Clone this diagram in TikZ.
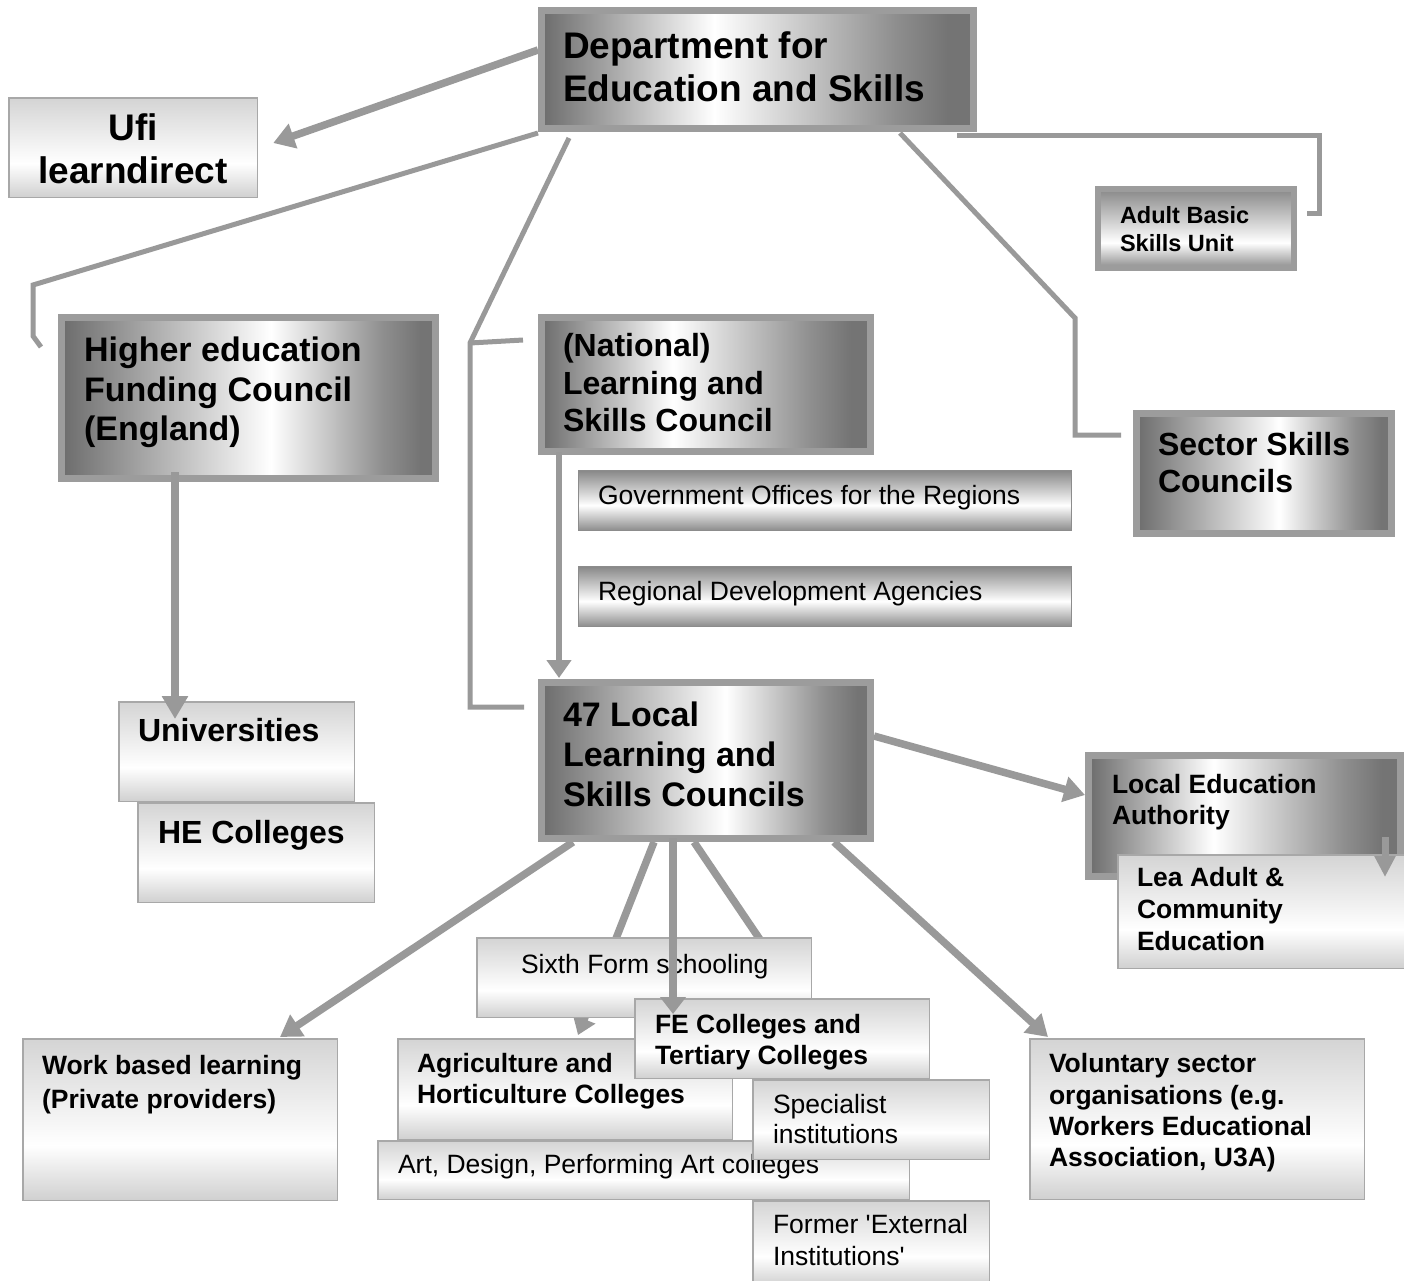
\documentclass[tikz,border=0pt]{standalone}
\usepackage{fontspec}
\setmainfont{Liberation Sans}
\usetikzlibrary{arrows.meta,calc,backgrounds}
\definecolor{lnc}{HTML}{999999}
\definecolor{bord}{HTML}{9C9C9C}
\definecolor{dkL}{HTML}{6C6C6C}
\definecolor{dkM}{HTML}{8E8E8E}
\definecolor{dkR}{HTML}{747474}
\definecolor{ltT}{HTML}{D4D4D4}
\definecolor{ltB}{HTML}{D0D0D0}
\definecolor{lbord}{HTML}{A8A8A8}
\definecolor{mtT}{HTML}{888888}
\definecolor{mtB}{HTML}{8C8C8C}
\pgfdeclarehorizontalshading{dmA}{100bp}{color(0bp)=(dkL); color(25bp)=(dkL); color(45bp)=(white); color(66bp)=(dkM); color(72bp)=(dkR); color(75bp)=(dkR); color(100bp)=(dkR)}
\pgfdeclarehorizontalshading{dmB}{100bp}{color(0bp)=(dkL); color(25bp)=(dkL); color(53bp)=(white); color(68bp)=(dkM); color(73bp)=(dkR); color(75bp)=(dkR); color(100bp)=(dkR)}
\pgfdeclareverticalshading{mtv}{100bp}{color(0bp)=(mtB); color(25bp)=(mtB); color(46bp)=(white); color(75bp)=(mtT); color(100bp)=(mtT)}
\pgfdeclareverticalshading{mta}{100bp}{color(0bp)=(mtB); color(25bp)=(mtB); color(41bp)=(white); color(75bp)=(mtT); color(100bp)=(mtT)}
\pgfdeclareverticalshading{ltv}{100bp}{color(0bp)=(ltB); color(25bp)=(ltB); color(42bp)=(white); color(75bp)=(ltT); color(100bp)=(ltT)}
\newcommand\bx[7]{\node[#1, minimum width={#5-#3-#7}, minimum height={#6-#4-#7}] (#2) at ({(#3+#5)/2},{(#4+#6)/2}) {};}
\newcommand\fsz[2]{\fontsize{#1}{#2}\selectfont}
\begin{document}
\begin{tikzpicture}[x=1pt,y=-1pt,
  dbox/.style={shade, shading=dmA, draw=bord, line width=7pt, inner sep=0pt, outer sep=0pt},
  dboxB/.style={dbox, shading=dmB},
  mbox/.style={shade, shading=mtv, draw=mtB, line width=1pt, inner sep=0pt, outer sep=0pt},
  abox/.style={shade, shading=mta, draw=bord, line width=6pt, inner sep=0pt, outer sep=0pt},
  lbox/.style={shade, shading=ltv, draw=lbord, line width=1.5pt, inner sep=0pt, outer sep=0pt},
  tx/.style={inner sep=0pt, outer sep=0pt, align=left, anchor=north west, text=black},
  conn/.style={draw=lnc, line width=5pt},
  tconn/.style={draw=lnc, line width=7.5pt},
  arr/.style={-{Triangle[length=21pt,width=25pt]}},
  sarr/.style={-{Triangle[length=18pt,width=24pt]}}]
\useasboundingbox (0,0) rectangle (1404,1280);

% ---- boxes and texts ----
\bx{dbox}{dfes}{538}{7}{977}{132}{7}
\node[tx, font=\bfseries\fsz{37}{43}] (tdfes) at (563,32) {Department for\\Education and Skills};

\bx{lbox}{ufi}{8}{97}{258}{198}{1.5}
\node[tx, anchor=north, align=center, font=\bfseries\fsz{37}{43}] (tufi) at (133,113.5) {Ufi\\learndirect};

\bx{abox}{adult}{1095}{186}{1297}{271}{6}
\node[tx, font=\bfseries\fsz{23.5}{28.3}] (tadult) at (1120,206.5) {Adult Basic\\Skills Unit};

\bx{dboxB}{hefc}{58}{314}{439}{482}{7}
\node[tx, font=\bfseries\fsz{34}{39.5}] (thefc) at (84,337.2) {Higher education\\Funding Council\\(England)};

\bx{dbox}{nlsc}{538}{314}{874}{455}{7}
\node[tx, font=\bfseries\fsz{32}{37.5}] (tnlsc) at (563,333.5) {(National)\\Learning and\\Skills Council};

\bx{mbox}{gov}{578}{470}{1072}{531}{1}
\node[tx, font=\fsz{26.5}{30}] (tgov) at (598,485) {Government Offices for the Regions};

\bx{mbox}{reg}{578}{566}{1072}{627}{1}
\node[tx, font=\fsz{26.5}{30}] (treg) at (598,581) {Regional Development Agencies};

\bx{dboxB}{sector}{1133}{410}{1395}{537}{7}
\node[tx, font=\bfseries\fsz{32}{37.5}] (tsector) at (1158,432) {Sector Skills\\Councils};

\bx{dboxB}{lsc}{538}{679}{874}{842}{7}
\node[tx, font=\bfseries\fsz{34}{40}] (tlsc) at (563,702.2) {47 Local\\Learning and\\Skills Councils};

\bx{dbox}{lea}{1085}{752}{1404}{880}{7}
\node[tx, font=\bfseries\fsz{26.5}{31}] (tlea) at (1112,774.3) {Local Education\\Authority};

\bx{lbox}{leaad}{1117}{854}{1410}{969}{1.5}
\node[tx, font=\bfseries\fsz{26.5}{31.7}] (tleaad) at (1137,867.7) {Lea Adult \&\\Community\\Education};

\bx{lbox}{univ}{118}{701}{355}{802}{1.5}
\node[tx, font=\bfseries\fsz{32}{37}] (tuniv) at (138,718.5) {Universities};

\bx{lbox}{he}{137}{802}{375}{903}{1.5}
\node[tx, font=\bfseries\fsz{32}{37}] (the) at (158,820) {HE Colleges};

\bx{lbox}{work}{22}{1038}{338}{1201}{1.5}
\node[tx, font=\bfseries\fsz{26.5}{34}] (twork) at (42,1055.3) {Work based learning\\(Private providers)};

\bx{lbox}{vol}{1029}{1038}{1365}{1200}{1.5}
\node[tx, font=\bfseries\fsz{26.5}{31.3}] (tvol) at (1049,1053.7) {Voluntary sector\\organisations (e.g.\\Workers Educational\\Association, U3A)};

\bx{lbox}{sixth}{476}{937}{812}{1018}{1.5}
\node[tx, font=\fsz{26.5}{30}] (tsixth) at (521,954.3) {Sixth Form schooling};

\bx{lbox}{agri}{397}{1038}{733}{1140}{1.5}
\node[tx, font=\bfseries\fsz{26.5}{31}] (tagri) at (417,1053.7) {Agriculture and\\Horticulture Colleges};

\bx{lbox}{fe}{634}{998}{930}{1079}{1.5}
\node[tx, font=\bfseries\fsz{26.5}{30.5}] (tfe) at (655,1014.3) {FE Colleges and\\Tertiary Colleges};

\bx{lbox}{art}{377}{1140}{910}{1200}{1.5}
\node[tx, font=\fsz{26.5}{30}] (tart) at (398,1154.3) {Art, Design, Performing Art colleges};

\bx{lbox}{spec}{752}{1079}{990}{1160}{1.5}
\node[tx, font=\fsz{26.5}{30}] (tspec) at (773,1094.3) {Specialist\\institutions};

\bx{lbox}{former}{752}{1200}{990}{1286}{1.5}
\node[tx, font=\fsz{26.5}{31.5}] (tformer) at (773,1214.3) {Former \textquotesingle External\\Institutions\textquotesingle};

% ---- connectors behind the boxes ----
\begin{scope}[on background layer]
\fill[white] (0,0) rectangle (1404,1280);
\draw[tconn,arr] ($(dfes.west)+(-3.5,-19.5)$) -- ($(ufi.east)+(16,-4.5)$);
\draw[conn] ($(dfes.south west)+(-3.5,4.5)$) -- ($(hefc.north west)+(-28.5,-32.5)$)
  -- ($(hefc.north west)+(-28.5,18.5)$) -- ($(hefc.north west)+(-20.5,29.5)$);
\draw[conn] ($(dfes.south west)+(27.5,9.5)$) -- ($(nlsc.west)+(-71.5,-41.5)$) coordinate (brk)
  -- ($(lsc.west)+(-71.5,-53.5)$) -- ($(lsc.west)+(-17.5,-53.5)$);
\draw[conn] (brk) -- ($(nlsc.west)+(-18.5,-44.5)$);
\draw[conn] ($(dfes.south east)+(-73.5,4.5)$) -- ($(sector.west)+(-61.5,-155.5)$)
  -- ($(sector.west)+(-61.5,-38.5)$) -- ($(sector.west)+(-15.5,-38.5)$);
\draw[conn] ($(dfes.south east)+(-16.5,6.5)$) -- ($(adult.east)+(25,-93.5)$)
  -- ($(adult.east)+(25,-15.5)$) -- ($(adult.east)+(13,-15.5)$);
\draw[tconn,arr] ($(lsc.south west)+(31.5,3.5)$) -- ($(work.north west)+(257.25,-1.75)$);
\draw[tconn,-{Triangle[length=17pt,width=23pt]}] ($(lsc.south west)+(112.5,3.5)$) -- ($(agri.north west)+(180.25,-3.75)$);
\draw[tconn,sarr] ($(lsc.south west)+(152.5,3.5)$) -- ($(spec.north west)+(98.25,-5.75)$);
\draw[tconn,arr] ($(lsc.south east)+(-36.5,3.5)$) -- ($(vol.north west)+(18.25,-1.75)$);
\draw[tconn,arr] ($(lsc.east)+(3.5,-24.5)$) -- ($(lea.west)+(-3.5,-21)$);
\end{scope}

% ---- connectors over the boxes ----
\draw[tconn,-{Triangle[length=23pt,width=25pt]}] ($(hefc.south west)+(113.5,-6.5)$) -- ($(univ.north west)+(56.25,17.25)$);
\draw[draw=lnc,line width=6.5pt,sarr] ($(nlsc.south west)+(17.5,0.5)$) -- ($(lsc.north west)+(17.5,-4.5)$);
\draw[tconn,-{Triangle[length=17pt,width=25pt]}] ($(lsc.south west)+(131.5,-0.5)$) -- ($(fe.north west)+(38.25,15.25)$);
\draw[draw=lnc,line width=7pt,-{Triangle[length=21pt,width=20pt]}] ($(lea.south east)+(-15.5,-39.5)$) -- ($(leaad.north east)+(-24.25,22.25)$);
\end{tikzpicture}
\end{document}
